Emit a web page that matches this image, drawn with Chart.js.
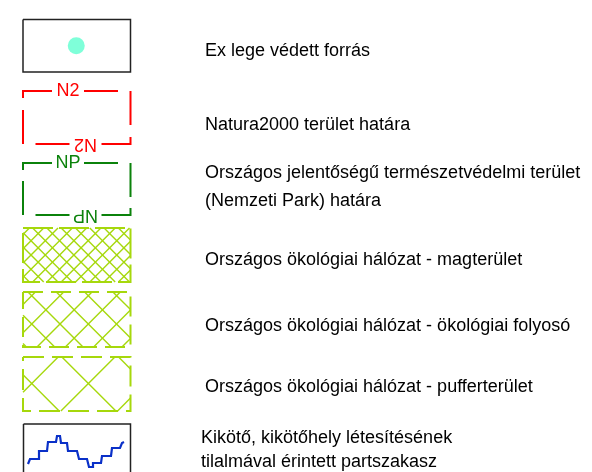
<!DOCTYPE html>
<html><head><meta charset="utf-8">
<script src="https://cdn.jsdelivr.net/npm/chart.js@4/dist/chart.umd.min.js"></script>
<style>html,body{margin:0;padding:0;background:#fff}#wrap{width:592px;height:472px;position:relative}</style>
</head><body><div id="wrap"><canvas id="c"></canvas></div>
<script>
// ---- legend content (data) ----
const legendLabels = [
  ["Ex lege védett forrás"],
  ["Natura2000 terület határa"],
  ["Országos jelentőségű természetvédelmi terület", "(Nemzeti Park) határa"],
  ["Országos ökológiai hálózat - magterület"],
  ["Országos ökológiai hálózat - ökológiai folyosó"],
  ["Országos ökológiai hálózat - pufferterület"],
  ["Kikötő, kikötőhely létesítésének", "tilalmával érintett partszakasz"]
];
const symbolKinds = ["spring", "border", "border", "hatch", "hatch", "hatch", "shore"];
const borderCodes = [null, "N2", "NP", null, null, null, null];
// shoreline step profile of the harbour symbol: [dx, dy] inside the symbol box
const shorelineProfile = [[5,40],[7,35],[15,35],[16,27],[24,27],[25,18],[33,18],[34,12],[37,12],[38,19],[44,19],[45,27],[54,27],[56,35],[64,35],[66,43],[70,43],[70,39],[78,39],[79,32],[88,32],[89,24],[97,24],[99,19],[101,18]];

// ---- layout & style (not data) ----
const BOX_L = 23, BOX_R = 130.5;
const rowLayout = [
  {top: 19.5, bottom: 72,  textX: 205, baselines: [56]},
  {top: 91,   bottom: 144, textX: 205, baselines: [130]},
  {top: 163,  bottom: 215, textX: 205, baselines: [178, 206]},
  {top: 228,  bottom: 282, textX: 205, baselines: [265], period: 14.3, dash: [30, 6], phaseX: 31, phaseY: 255},
  {top: 292,  bottom: 347, textX: 205, baselines: [331], period: 28.3, dash: [20, 8], phaseX: 31.7, phaseY: 324},
  {top: 357,  bottom: 411, textX: 205, baselines: [392], period: 56.7, dash: [21, 8], phaseX: 31.7, phaseY: 383.5},
  {top: 424,  bottom: 490, textX: 201, baselines: [443, 467]}
];
const COLORS = {N2: '#ff0000', NP: '#0b820b', hatch: '#a6d80c', frame: '#222222', spring: '#7fffd9', shore: '#0a30c8'};
const FONT = '18px "Liberation Sans", Arial, sans-serif';

const datasets = [];
const texts = [];
function seg(points, color, width, dash) {
  datasets.push({data: points.map(p => ({x: p[0], y: p[1]})), showLine: true, pointRadius: 0,
    borderColor: color, borderWidth: width, borderDash: dash || [], fill: false, tension: 0, borderCapStyle: 'butt'});
}
function rect(L, T, R, B, color, width, dash) {
  seg([[L,T],[R,T],[R,B],[L,B],[L,T]], color, width, dash);
}
function clipLine(L, T, R, B, sx, c) {
  const pts = [];
  const yl = sx*L + c, yr = sx*R + c;
  if (yl >= T && yl <= B) pts.push([L, yl]);
  if (yr >= T && yr <= B) pts.push([R, yr]);
  const xt = (T - c)/sx, xb = (B - c)/sx;
  if (xt > L && xt < R) pts.push([xt, T]);
  if (xb > L && xb < R) pts.push([xb, B]);
  return pts.length >= 2 ? [pts[0], pts[1]] : null;
}

symbolKinds.forEach((kind, i) => {
  const r = rowLayout[i];
  const L = BOX_L, R = BOX_R, T = r.top, B = r.bottom;
  if (kind === 'spring') {
    rect(L, T, R, B, COLORS.frame, 1.5);
    datasets.push({data: [{x: (L+R)/2 - 0.5, y: (T+B)/2}], showLine: false, pointRadius: 8.5,
      pointBackgroundColor: COLORS.spring, pointBorderWidth: 0, pointHoverRadius: 8.5});
  } else if (kind === 'border') {
    const code = borderCodes[i];
    const col = COLORS[code];
    seg([[L,T+7],[L,T],[L+29,T]], col, 2);
    seg([[L+61,T],[L+95,T]], col, 2);
    seg([[R,T],[R,T+34]], col, 2);
    seg([[R,B-7],[R,B],[R-29,B]], col, 2);
    seg([[R-61,B],[R-95,B]], col, 2);
    seg([[L,B],[L,B-34]], col, 2);
    texts.push({text: code, x: L+45, y: T, color: col, rot: 0, center: true});
    texts.push({text: code, x: R-45, y: B, color: col, rot: Math.PI, center: true});
  } else if (kind === 'hatch') {
    const p = r.period;
    for (const sx of [1, -1]) {
      const c0 = r.phaseY - sx*r.phaseX;
      for (let k = -40; k <= 40; k++) {
        const c = c0 + k*p;
        const s = clipLine(L, T, R, B, sx, c);
        if (s) seg(s, COLORS.hatch, 1.4);
      }
    }
    rect(L, T, R, B, COLORS.hatch, 2, r.dash);
  } else if (kind === 'shore') {
    rect(L+0.5, T, R, B, COLORS.frame, 1.5);
    seg(shorelineProfile.map(q => [L + q[0], T + q[1]]), COLORS.shore, 2.2);
  }
  r.baselines.forEach((bl, j) => {
    texts.push({text: legendLabels[i][j], x: r.textX, y: bl, color: '#000', rot: 0, center: false});
  });
});

const textPlugin = {
  id: 'legendText',
  afterDatasetsDraw(chart) {
    const ctx = chart.ctx, xs = chart.scales.x, ys = chart.scales.y;
    ctx.save();
    ctx.font = FONT;
    texts.forEach(t => {
      const px = xs.getPixelForValue(t.x), py = ys.getPixelForValue(t.y);
      ctx.save();
      ctx.translate(px, py);
      ctx.rotate(t.rot);
      ctx.fillStyle = t.color;
      if (t.center) {
        ctx.textAlign = 'center'; ctx.textBaseline = 'middle';
        ctx.fillText(t.text, 0, 0.5);
      } else {
        ctx.textAlign = 'left'; ctx.textBaseline = 'alphabetic';
        ctx.fillText(t.text, 0, 0);
      }
      ctx.restore();
    });
    ctx.restore();
  }
};

new Chart(document.getElementById('c'), {
  type: 'scatter',
  data: {datasets},
  plugins: [textPlugin],
  options: {
    animation: false, responsive: true, maintainAspectRatio: false,
    layout: {padding: 0, autoPadding: false},
    events: [],
    plugins: {legend: {display: false}, tooltip: {enabled: false}},
    scales: {
      x: {type: 'linear', min: 0, max: 592, display: false},
      y: {type: 'linear', min: 0, max: 472, reverse: true, display: false}
    }
  }
});
</script>
</body></html>
